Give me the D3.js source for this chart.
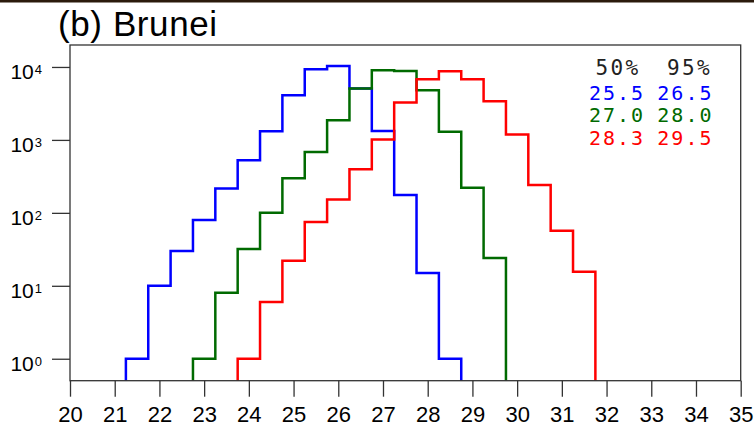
<!DOCTYPE html>
<html>
<head>
<meta charset="utf-8">
<script src="https://cdn.jsdelivr.net/npm/d3@7"></script>
<style>
  html, body { margin: 0; padding: 0; background: #fff; }
  svg { display: block; }
</style>
</head>
<body>
<svg id="chart"></svg>
<script>
// histogram bins are 0.5 wide; each series starts at its own left edge
const BIN_WIDTH = 0.5;

const blueStart = 21.25;
const blueCounts = [1, 10, 30, 80, 216, 528, 1315, 4090, 9270, 10290, 5050, 1328, 175, 15, 1];

const greenStart = 22.75;
const greenCounts = [1, 8, 32, 100, 297, 685, 1860, 5050, 8980, 8790, 4790, 1290, 220, 24];

const redStart = 23.75;
const redCounts = [1, 6, 22, 75, 153, 397, 1010, 3250, 6760, 8710, 6760, 3385, 1186, 240, 57, 15.6];

const xTicks = [20, 21, 22, 23, 24, 25, 26, 27, 28, 29, 30, 31, 32, 33, 34, 35];
const yTicks = [1, 10, 100, 1000, 10000];
const yExponents = ['0', '1', '2', '3', '4'];

const legendHeader = ['50%', '95%'];
const legendRows = [
    ['25.5', '26.5'],
    ['27.0', '28.0'],
    ['28.3', '29.5']
];

const WIDTH = 754;
const HEIGHT = 427;
const MARGIN = { top: 45, right: 13.3, bottom: 46.3, left: 70 };
const BLUE = '#0000ff';
const GREEN = '#006a00';
const RED = '#ff0000';
const AXIS_COLOR = '#333';

const svg = d3.select('#chart')
    .attr('width', WIDTH)
    .attr('height', HEIGHT);

// dark strip along the top edge
svg.append('rect')
    .attr('x', 0).attr('y', 0)
    .attr('width', WIDTH).attr('height', 2.5)
    .attr('fill', '#2b1a0c');

const innerW = WIDTH - MARGIN.left - MARGIN.right;
const innerH = HEIGHT - MARGIN.top - MARGIN.bottom;

const g = svg.append('g')
    .attr('transform', `translate(${MARGIN.left},${MARGIN.top})`);

const x = d3.scaleLinear().domain([20, 35]).range([0, innerW]);
const y = d3.scaleLog().domain([0.5, 20000]).range([innerH, 0]);

function stepPoints(start, counts) {
    const pts = [[start, 0.5]];
    counts.forEach((c, i) => {
        pts.push([start + i * BIN_WIDTH, c]);
        pts.push([start + (i + 1) * BIN_WIDTH, c]);
    });
    pts.push([start + counts.length * BIN_WIDTH, 0.5]);
    return pts;
}

const line = d3.line()
    .x(d => x(d[0]))
    .y(d => y(d[1]));

const series = [
    { start: blueStart, counts: blueCounts, color: BLUE },
    { start: greenStart, counts: greenCounts, color: GREEN },
    { start: redStart, counts: redCounts, color: RED }
];

g.selectAll('.hist')
    .data(series)
    .enter()
    .append('path')
    .attr('class', 'hist')
    .attr('d', d => line(stepPoints(d.start, d.counts)))
    .attr('fill', 'none')
    .attr('stroke', d => d.color)
    .attr('stroke-width', 2.5)
    .attr('stroke-linejoin', 'miter');

// frame
g.append('rect')
    .attr('x', 0).attr('y', 0)
    .attr('width', innerW).attr('height', innerH)
    .attr('fill', 'none')
    .attr('stroke', AXIS_COLOR)
    .attr('stroke-width', 1.3);

// x axis
const xAxis = g.append('g')
    .attr('transform', `translate(0,${innerH})`)
    .call(d3.axisBottom(x)
        .tickValues(xTicks)
        .tickSize(16)
        .tickPadding(10)
        .tickFormat(d3.format('d')));

xAxis.select('.domain').remove();
xAxis.selectAll('line').attr('stroke', AXIS_COLOR).attr('stroke-width', 1.3);
xAxis.selectAll('text')
    .attr('fill', '#000')
    .style('font-family', '"Liberation Sans", Arial, sans-serif')
    .style('font-size', '22px');

// y axis
const yAxis = g.append('g')
    .call(d3.axisLeft(y)
        .tickValues(yTicks)
        .tickSize(18)
        .tickPadding(10)
        .tickFormat(() => ''));

yAxis.select('.domain').remove();
yAxis.selectAll('line').attr('stroke', AXIS_COLOR).attr('stroke-width', 1.3);

const yLabels = yAxis.selectAll('.tick text')
    .attr('fill', '#000')
    .attr('x', -28)
    .attr('dy', '0.55em')
    .style('font-family', '"Liberation Sans", Arial, sans-serif')
    .style('font-size', '21px');

yLabels.each(function(d, i) {
    const t = d3.select(this);
    t.append('tspan').text('10');
    t.append('tspan')
        .attr('dy', '-0.36em')
        .attr('dx', '1')
        .style('font-size', '13px')
        .text(yExponents[i]);
});

// title
svg.append('text')
    .attr('x', 58)
    .attr('y', 36)
    .style('font-family', '"Liberation Sans", Arial, sans-serif')
    .style('font-size', '35px')
    .style('letter-spacing', '0.6px')
    .attr('fill', '#000')
    .text('(b) Brunei');

// percentile legend
const legend = svg.append('g')
    .style('font-family', '"DejaVu Sans Mono", monospace');

const headerLeft = [595.5, 667];
const colLeft = [589, 657.3];
const rowBase = [75, 100, 122, 144.5];
const rowColors = [BLUE, GREEN, RED];

legendHeader.forEach((txt, j) => {
    legend.append('text')
        .attr('x', headerLeft[j])
        .attr('y', rowBase[0])
        .attr('fill', '#222')
        .style('font-size', '21px')
        .style('letter-spacing', '2.4px')
        .text(txt);
});

legendRows.forEach((row, i) => {
    row.forEach((txt, j) => {
        legend.append('text')
            .attr('x', colLeft[j])
            .attr('y', rowBase[i + 1])
            .attr('fill', rowColors[i])
            .style('font-size', '20px')
            .style('letter-spacing', '2px')
            .text(txt);
    });
});
</script>
</body>
</html>
